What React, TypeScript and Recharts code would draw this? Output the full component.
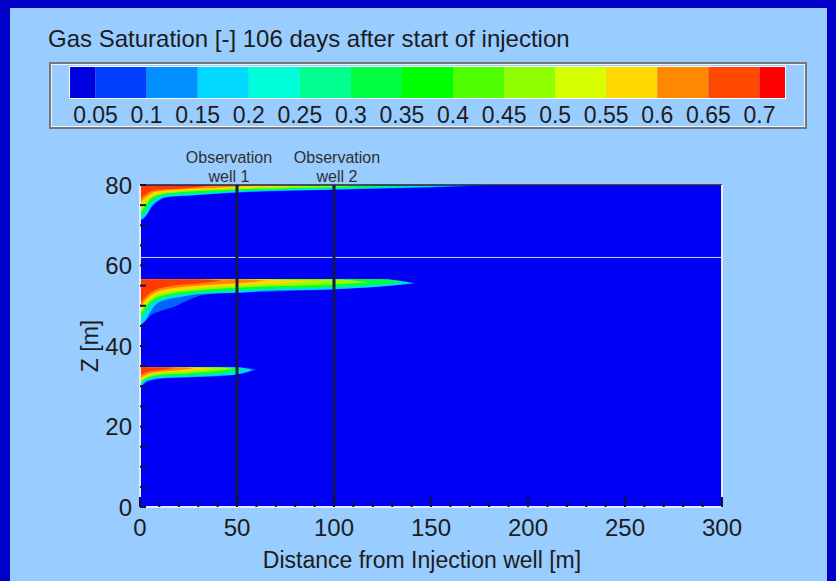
import {
  Area,
  Bar,
  BarChart,
  CartesianGrid,
  ComposedChart,
  ReferenceLine,
  XAxis,
  YAxis,
} from 'recharts';

const chartTitle = 'Gas Saturation [-] 106 days after start of injection';
const xTitle = 'Distance from Injection well [m]';
const yTitle = 'Z [m]';

// colour bar: band edges, band colours, labelled values
const barEdges = [0.025, 0.05, 0.1, 0.15, 0.2, 0.25, 0.3, 0.35, 0.4, 0.45, 0.5, 0.55, 0.6, 0.65, 0.7, 0.725];
const barColors = [
  '#0000e0', '#0040ff', '#0090ff', '#00d8ff', '#00ffd8', '#00ff90', '#00ff40',
  '#00ff00', '#50ff00', '#90ff00', '#d8ff00', '#ffd800', '#ff8800', '#ff4800', '#ff0000',
];
const barTicks = [0.05, 0.1, 0.15, 0.2, 0.25, 0.3, 0.35, 0.4, 0.45, 0.5, 0.55, 0.6, 0.65, 0.7];

// contour levels drawn inside the plumes (outer -> inner)
const contourLevels = [0.1, 0.15, 0.3, 0.45, 0.55, 0.6, 0.65];
const contourColors = ['#0064ff', '#00d8ff', '#00ff40', '#90ff00', '#ffd800', '#ff8800', '#ff3c00'];

// each plume: top of the layer and the lower edge [x, z] of every contour
const topPlumeTop = 80;
const topPlumeEdges: [number, number][][] = [
  [[0, 71], [3, 72.1], [6, 74.4], [9, 75.8], [14, 76.9], [25, 77.3], [40, 77.8], [50, 78.1], [80, 78.6], [100, 78.8], [135, 79.2], [165, 79.6], [180, 80]],
  [[0, 71.3], [3, 72.4], [6, 74.8], [9, 76.1], [14, 77.1], [25, 77.4], [40, 77.9], [50, 78.2], [80, 78.7], [100, 78.9], [135, 79.3], [160, 79.7], [175, 80]],
  [[0, 72], [3, 73.5], [6, 75.8], [10, 76.9], [15, 77.6], [30, 77.9], [50, 78.5], [100, 79.2], [140, 79.7], [155, 80]],
  [[0, 73], [3, 75], [6, 76.8], [10, 77.6], [20, 78.2], [50, 78.9], [100, 79.5], [125, 80]],
  [[0, 74], [4, 76.3], [8, 77.6], [15, 78.3], [35, 78.9], [60, 79.3], [90, 80]],
  [[0, 75.5], [4, 77.3], [8, 78.3], [20, 78.9], [40, 79.3], [60, 80]],
  [[0, 76.5], [4, 78], [10, 78.8], [25, 79.2], [38, 80]],
];

const midPlumeTop = 56.6;
const midPlumeEdges: [number, number][][] = [
  [[0, 45], [3, 46.2], [6, 47.8], [10, 48.6], [18, 49.8], [26, 51.6], [34, 52.8], [50, 53.2], [100, 54.1], [125, 54.8], [142, 55.6]],
  [[0, 45.2], [3, 46.5], [6, 49], [9, 50.6], [14, 51.6], [21, 52.2], [31, 52.9], [50, 53.2], [64, 53.7], [100, 54.1], [124, 54.8], [141, 55.6]],
  [[0, 46.5], [3, 48.5], [6, 50.5], [10, 51.5], [20, 52.6], [35, 53.3], [50, 53.8], [100, 54.6], [125, 55.3], [136, 55.7]],
  [[0, 47.5], [3, 49.8], [6, 51.3], [10, 52.3], [20, 53.3], [50, 54.5], [100, 55.3], [118, 55.8]],
  [[0, 48.5], [4, 51], [8, 52.4], [15, 53.4], [30, 54.3], [60, 55.2], [95, 56]],
  [[0, 49.5], [4, 52], [8, 53.3], [15, 54.2], [30, 55], [50, 55.6], [65, 56.2]],
  [[0, 50.5], [4, 52.8], [8, 54], [15, 54.8], [30, 55.5], [42, 56.2]],
];

const lowPlumeTop = 34.7;
const lowPlumeEdges: [number, number][][] = [
  [[0, 29.4], [3, 30.9], [8, 31.7], [20, 32.1], [40, 32.5], [50, 32.9], [60, 34.2]],
  [[0, 29.6], [3, 31.2], [10, 32], [24, 32.3], [40, 32.6], [50, 33], [58, 34]],
  [[0, 30.2], [3, 31.6], [10, 32.4], [25, 32.7], [45, 33.3], [54, 34.1]],
  [[0, 30.8], [4, 32.2], [10, 32.8], [25, 33.2], [40, 33.8], [48, 34.3]],
  [[0, 31.3], [4, 32.6], [10, 33.2], [25, 33.7], [38, 34.4]],
  [[0, 32], [4, 33], [10, 33.6], [20, 34], [28, 34.5]],
  [[0, 32.8], [4, 33.6], [10, 34], [18, 34.6]],
];

const wellX = [50, 100];
const wellNames = ['well 1', 'well 2'];

const xTicks = [0, 10, 20, 30, 40, 50, 60, 70, 80, 90, 100, 110, 120, 130, 140, 150, 160, 170, 180, 190, 200, 210, 220, 230, 240, 250, 260, 270, 280, 290, 300];
const yTicks = [0, 5, 10, 15, 20, 25, 30, 35, 40, 45, 50, 55, 60, 65, 70, 75, 80];

const plumes = [
  { top: topPlumeTop, edges: topPlumeEdges },
  { top: midPlumeTop, edges: midPlumeEdges },
  { top: lowPlumeTop, edges: lowPlumeEdges },
];

// one row, each colour band stacked from the previous edge
const barRow: Record<string, number | string> = { band: 'Sg' };
barColors.forEach((_, i) => {
  barRow[`c${i}`] = barEdges[i + 1] - (i === 0 ? 0 : barEdges[i]);
});
const barData = [barRow];

const font = '"Liberation Sans", Arial, sans-serif';
const ink = '#1c1c1c';
const tickInk = '#10103c';

function toBand(edge: [number, number][], top: number) {
  return edge.map(([x, z], i) => ({ x, band: i === edge.length - 1 ? [z, z] : [z, top] }));
}

function XTick(props: any) {
  const { x, y, payload } = props;
  const v = payload.value as number;
  const major = v % 50 === 0;
  return (
    <g>
      <line x1={x} x2={x} y1={y} y2={y - (major ? 10 : 5)} stroke={tickInk} strokeWidth={2} />
      {major && (
        <text x={x} y={y + 29} textAnchor="middle" fontSize={24} fontFamily={font} fill={ink}>
          {v}
        </text>
      )}
    </g>
  );
}

function YTick(props: any) {
  const { x, y, payload } = props;
  const v = payload.value as number;
  return (
    <g>
      <line x1={x} x2={x + 6} y1={y} y2={y} stroke={tickInk} strokeWidth={2} />
      {v % 20 === 0 && (
        <text x={x - 8} y={y} dy="0.36em" textAnchor="end" fontSize={24} fontFamily={font} fill={ink}>
          {v}
        </text>
      )}
    </g>
  );
}

function WellLabel({ viewBox, name, shift }: any) {
  const cx = viewBox.x + shift;
  const top = viewBox.y;
  return (
    <g fontFamily={font} fontSize={16} fill="#303030" textAnchor="middle">
      <text x={cx} y={top - 22}>Observation</text>
      <text x={cx} y={top - 3}>{name}</text>
    </g>
  );
}

const labelShift = [-8, 3];

export default function App() {
  return (
    <div style={{ position: 'absolute', left: 0, top: 0, width: 836, height: 581, background: '#0000c8', overflow: 'hidden' }}>
      <div style={{ position: 'absolute', left: 10, top: 8, width: 817, height: 573, background: '#99ccff' }} />
      <div
        style={{
          position: 'absolute', left: 48, top: 25, fontFamily: font, fontSize: 24,
          color: ink, whiteSpace: 'nowrap', lineHeight: '28px',
        }}
      >
        {chartTitle}
      </div>
      <div
        style={{
          position: 'absolute', left: 49, top: 62, width: 758, height: 67, boxSizing: 'border-box',
          border: '2px solid #777', boxShadow: 'inset 0 0 0 1px #eef4ff',
        }}
      />
      <div style={{ position: 'absolute', left: 0, top: 0 }}>
        <BarChart
          width={836}
          height={140}
          data={barData}
          layout="vertical"
          barCategoryGap={0}
          margin={{ top: 67, right: 51, bottom: 12, left: 70 }}
        >
          <XAxis
            type="number"
            domain={[0.025, 0.725]}
            allowDataOverflow
            ticks={barTicks}
            interval={0}
            axisLine={false}
            tickLine={false}
            height={30}
            tickMargin={3}
            tick={{ fontSize: 23, fontFamily: font, fill: ink }}
          />
          <YAxis type="category" dataKey="band" hide width={0} />
          {barColors.map((c, i) => (
            <Bar key={i} dataKey={`c${i}`} stackId="bar" fill={c} isAnimationActive={false} />
          ))}
        </BarChart>
      </div>
      <div
        style={{
          position: 'absolute', left: 69, top: 66, width: 717, height: 33, boxSizing: 'border-box',
          border: '1px solid #ffffff',
        }}
      />
      <div style={{ position: 'absolute', left: 0, top: 0 }}>
        <ComposedChart width={836} height={581} margin={{ top: 185, right: 114, bottom: 34, left: 80 }}>
          <CartesianGrid fill="#0000f5" horizontal={false} vertical={false} />
          <XAxis
            type="number"
            dataKey="x"
            domain={[0, 300]}
            ticks={xTicks}
            interval={0}
            allowDataOverflow
            height={40}
            tickSize={0}
            tickMargin={0}
            tick={XTick}
            axisLine={{ stroke: '#e4ecfa', strokeWidth: 2 }}
            label={{ value: xTitle, position: 'bottom', offset: 5, dx: -9, fontSize: 23, fontFamily: font, fill: ink }}
          />
          <YAxis
            type="number"
            domain={[0, 80]}
            ticks={yTicks}
            interval={0}
            allowDataOverflow
            width={60}
            tickSize={0}
            tickMargin={0}
            tick={YTick}
            axisLine={{ stroke: '#e4ecfa', strokeWidth: 2 }}
            label={{ value: yTitle, angle: -90, position: 'insideLeft', offset: 10, textAnchor: 'middle', fontSize: 23, fontFamily: font, fill: ink }}
          />
          {plumes.map((p, pi) =>
            p.edges.map((edge, li) => (
              <Area
                key={`${pi}-${li}`}
                data={toBand(edge, p.top)}
                dataKey="band"
                name={`Sg ${contourLevels[li]}`}
                type="monotone"
                fill={contourColors[li]}
                fillOpacity={1}
                stroke="none"
                dot={false}
                activeDot={false}
                isAnimationActive={false}
              />
            )),
          )}
          <ReferenceLine y={62} stroke="#c8d8ff" strokeWidth={1} />
          <ReferenceLine y={80} stroke="#202048" strokeWidth={1.5} />
          <ReferenceLine x={300} stroke="#e4ecfa" strokeWidth={2} />
          {wellX.map((wx, i) => (
            <ReferenceLine
              key={wx}
              x={wx}
              stroke="#141450"
              strokeWidth={3}
              label={(props: any) => <WellLabel {...props} name={wellNames[i]} shift={labelShift[i]} />}
            />
          ))}
        </ComposedChart>
      </div>
    </div>
  );
}
